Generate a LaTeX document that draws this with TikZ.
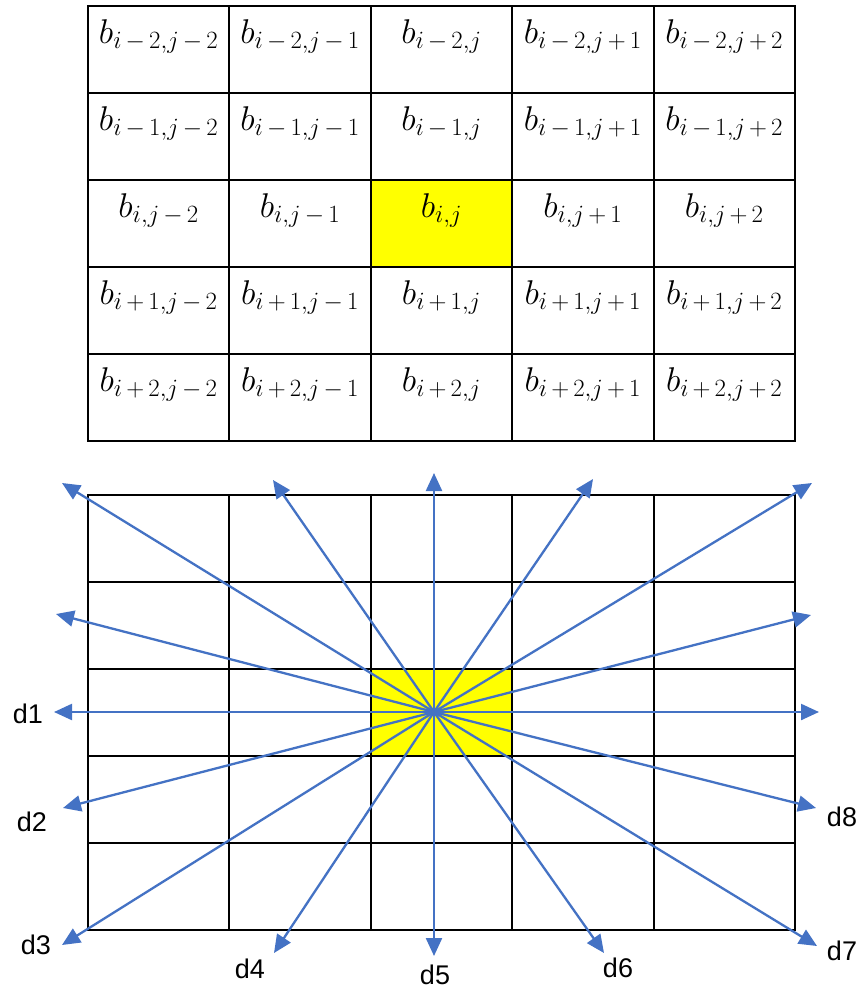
\RequirePackage{fix-cm}
\documentclass[tikz,border=0pt]{standalone}
\usepackage{graphicx}
\usepackage{fontspec}
\newfontfamily\lsans{Liberation Sans}
\usetikzlibrary{arrows.meta}
\DeclareMathSizes{24.88}{24.88}{18}{14}
\newcommand\mnus{\mskip3mu{-}\mskip3mu}
\newcommand\mpls{\mskip3mu{+}\mskip3mu}
\newcommand\bcell[1]{\scalebox{1.38}{$b_{#1}$}}
\definecolor{arrblue}{HTML}{4472C4}
\definecolor{cellyellow}{HTML}{FFFF00}
\begin{document}
\begin{tikzpicture}[x=1pt,y=-1pt,
  cell/.style={draw=black,line width=2pt,minimum width=141.4pt,minimum height=87pt,inner sep=0pt,outer sep=0pt},
  lab/.style={inner sep=0pt,font=\fontsize{24.88}{30}\selectfont},
  arr/.style={draw=arrblue,line width=2.3pt,-{Triangle[length=18pt,width=16pt]}},
  dlab/.style={inner sep=0pt,font=\lsans\fontsize{27}{30}\selectfont}]
\useasboundingbox (0,0) rectangle (865,991);
% top grid
\foreach \r/\rs in {1/{i\mnus2},2/{i\mnus1},3/{i},4/{i\mpls1},5/{i\mpls2}}{
  \foreach \c/\cs in {1/{j\mnus2},2/{j\mnus1},3/{j},4/{j\mpls1},5/{j\mpls2}}{
    \ifnum\r\c=33 \def\fc{cellyellow}\else\def\fc{white}\fi
    \node[cell,fill=\fc] (t\r\c) at ({88+(\c-0.5)*141.4},{6+(\r-0.5)*87}) {};
    \node[lab,anchor=base] (l\r\c) at ([yshift=-37pt]t\r\c.north) {\bcell{\rs,\cs}};
  }
}
% bottom grid
\foreach \r in {1,...,5}{
  \foreach \c in {1,...,5}{
    \ifnum\r\c=33 \def\fc{cellyellow}\else\def\fc{white}\fi
    \node[cell,fill=\fc] (g\r\c) at ({88+(\c-0.5)*141.4},{495+(\r-0.5)*87}) {};
  }
}
% arrows
\coordinate (o) at (434,712);
\coordinate (u1) at (62,483);
\coordinate (u2) at (273,480);
\coordinate (u3) at (434,473);
\coordinate (u4) at (593,479);
\coordinate (u5) at (812,483);
\coordinate (u6) at (56,614);
\coordinate (u7) at (811,615);
\coordinate (r1) at (819,712);
\coordinate (e1) at (54,712);
\coordinate (e2) at (63,808);
\coordinate (e3) at (62,945);
\coordinate (e4) at (274,953);
\coordinate (e5) at (434,956);
\coordinate (e6) at (604,953);
\coordinate (e7) at (817,946);
\coordinate (e8) at (816,808);
\foreach \p in {u1,u2,u3,u4,u5,u6,u7,r1,e1,e2,e3,e4,e5,e6,e7,e8}{
  \draw[arr] (o) -- (\p);
}
% labels
\node[dlab] (d1) at (28,714) {d1};
\node[dlab] (d2) at (32,822) {d2};
\node[dlab] (d3) at (36,945) {d3};
\node[dlab] (d4) at (250,969) {d4};
\node[dlab] (d5) at (435,975) {d5};
\node[dlab] (d6) at (618,968) {d6};
\node[dlab] (d7) at (842,951) {d7};
\node[dlab] (d8) at (842,817) {d8};
\end{tikzpicture}
\end{document}
